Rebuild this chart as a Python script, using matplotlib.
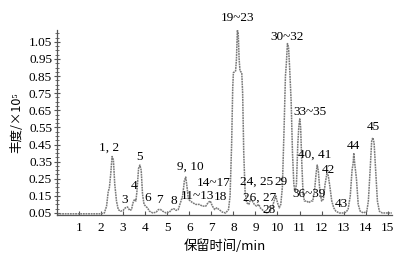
import matplotlib
matplotlib.use('Agg')
import matplotlib.pyplot as plt
from matplotlib.ticker import MultipleLocator, FixedLocator

# chromatogram trace: retention time (min), abundance (x10^5)
t = [0.0, 2.0, 2.15, 2.25, 2.32, 2.38, 2.44, 2.50, 2.56, 2.62, 2.70, 2.78, 2.88,
     3.0, 3.1, 3.2, 3.3, 3.38, 3.45, 3.52, 3.58, 3.63, 3.70, 3.76, 3.82, 3.88,
     3.95, 4.02, 4.1, 4.2, 4.35, 4.5, 4.6, 4.7, 4.8, 4.95, 5.1, 5.2, 5.3, 5.4,
     5.5, 5.6, 5.7, 5.78, 5.84, 5.9, 5.96, 6.05, 6.15, 6.3, 6.45, 6.6, 6.75,
     6.85, 6.95, 7.05, 7.15, 7.25, 7.35, 7.5, 7.65, 7.78, 7.85, 7.92, 7.97,
     8.00, 8.10, 8.14, 8.18, 8.22, 8.26, 8.30, 8.38, 8.42, 8.47, 8.53, 8.60,
     8.7, 8.78, 8.86, 8.95, 9.05, 9.15, 9.22, 9.3, 9.42, 9.55, 9.65, 9.75,
     9.85, 9.92, 10.0, 10.08, 10.15, 10.22, 10.3, 10.36, 10.40, 10.45, 10.50,
     10.55, 10.62, 10.68, 10.74, 10.80, 10.86, 10.92, 10.97, 11.01, 11.05,
     11.1, 11.16, 11.22, 11.32, 11.42, 11.52, 11.6, 11.68, 11.75, 11.80,
     11.85, 11.92, 12.0, 12.08, 12.16, 12.24, 12.3, 12.38, 12.46, 12.55,
     12.65, 12.8, 13.0, 13.1, 13.2, 13.3, 13.38, 13.43, 13.46, 13.5, 13.58,
     13.66, 13.75, 13.9, 14.05, 14.12, 14.2, 14.27, 14.32, 14.38, 14.45,
     14.53, 14.62, 14.75, 15.2]
abund = [0.045, 0.045, 0.05, 0.09, 0.17, 0.20, 0.28, 0.38, 0.36, 0.22, 0.12, 0.07, 0.06,
         0.065, 0.08, 0.085, 0.065, 0.07, 0.11, 0.13, 0.12, 0.18, 0.31, 0.33, 0.30, 0.16,
         0.10, 0.09, 0.08, 0.06, 0.05, 0.055, 0.07, 0.07, 0.06, 0.05, 0.055, 0.07, 0.075, 0.065,
         0.07, 0.11, 0.15, 0.24, 0.26, 0.20, 0.13, 0.12, 0.11, 0.10, 0.10, 0.09, 0.09,
         0.11, 0.12, 0.09, 0.07, 0.08, 0.07, 0.055, 0.05, 0.07, 0.15, 0.45, 0.78,
         0.87, 0.88, 0.95, 1.12, 1.10, 0.95, 0.88, 0.87, 0.75, 0.40, 0.18, 0.11,
         0.10, 0.13, 0.12, 0.10, 0.09, 0.10, 0.08, 0.07, 0.055, 0.05, 0.06, 0.08,
         0.12, 0.15, 0.11, 0.08, 0.10, 0.20, 0.55, 0.85, 0.92, 1.04, 1.02,
         0.90, 0.70, 0.40, 0.22, 0.17, 0.22, 0.45, 0.56, 0.60, 0.55,
         0.35, 0.16, 0.12, 0.12, 0.11, 0.12, 0.12, 0.18, 0.28, 0.33,
         0.30, 0.18, 0.12, 0.13, 0.22, 0.28, 0.27, 0.20, 0.12, 0.08,
         0.06, 0.05, 0.05, 0.055, 0.07, 0.15, 0.30, 0.34, 0.40, 0.34, 0.25,
         0.10, 0.06, 0.05, 0.06, 0.12, 0.30, 0.47, 0.49, 0.46, 0.30,
         0.12, 0.06, 0.05, 0.05]

# peak labels and where they sit
peak_labels = ['1, 2', '3', '4', '5', '6', '7', '8', '9, 10', '11~13', '14~17', '18',
               '19~23', '24, 25', '29', '26, 27', '28', '30~32', '33~35', '36~39',
               '40, 41', '42', '43', '44', '45']
label_t = [2.35, 3.08, 3.48, 3.76, 4.12, 4.66, 5.29, 6.06, 6.37, 7.1, 7.42,
           8.17, 9.07, 10.15, 9.2, 9.6, 10.45, 11.45, 11.45,
           11.7, 12.3, 12.9, 13.45, 14.33]
label_v = [0.43, 0.126, 0.21, 0.38, 0.14, 0.126, 0.12, 0.32, 0.15, 0.225, 0.144,
           1.19, 0.23, 0.23, 0.138, 0.07, 1.08, 0.64, 0.16,
           0.39, 0.30, 0.10, 0.44, 0.55]

serif = ['Liberation Serif', 'DejaVu Serif']
cjk = ['Noto Sans CJK SC', 'Liberation Serif']

fig = plt.figure(figsize=(4.01, 2.60), dpi=100)
ax = fig.add_axes([0.142, 0.173, 0.836, 0.712])

ax.plot(t, abund, color='#7a7a7a', lw=1.1, linestyle=(0, (1.2, 0.5)))

for lab, x, y in zip(peak_labels, label_t, label_v):
    ax.text(x, y, lab, ha='center', va='center', fontsize=9.5,
            family=serif, clip_on=False)

ax.set_xlim(0, 15.2)
ax.set_ylim(0.038, 1.12)
ax.xaxis.set_major_locator(FixedLocator(range(1, 16)))
ax.yaxis.set_major_locator(FixedLocator([0.05 + 0.1 * i for i in range(11)]))
ax.yaxis.set_minor_locator(MultipleLocator(0.025))
ax.set_yticklabels(['%.2f' % (0.05 + 0.1 * i) for i in range(11)])

for s in ['top', 'right']:
    ax.spines[s].set_visible(False)
for s in ['left', 'bottom']:
    ax.spines[s].set_color('#555555')
    ax.spines[s].set_linewidth(0.9)

ax.tick_params(axis='y', which='major', direction='inout', length=5, width=0.8,
               color='#555555', labelsize=9.5, pad=1)
ax.tick_params(axis='y', which='minor', direction='inout', length=3, width=0.6,
               color='#555555')
ax.tick_params(axis='x', which='major', direction='in', length=3, width=0.8,
               color='#555555', labelsize=9.5, pad=5)
for lbl in ax.get_xticklabels() + ax.get_yticklabels():
    lbl.set_family(serif)

ax.set_xlabel('保留时间/min', family=cjk, fontsize=9.5, labelpad=4)
ax.set_ylabel('丰度/×10⁵', family=cjk, fontsize=9, labelpad=4)

fig.savefig('out.png', dpi=100)
